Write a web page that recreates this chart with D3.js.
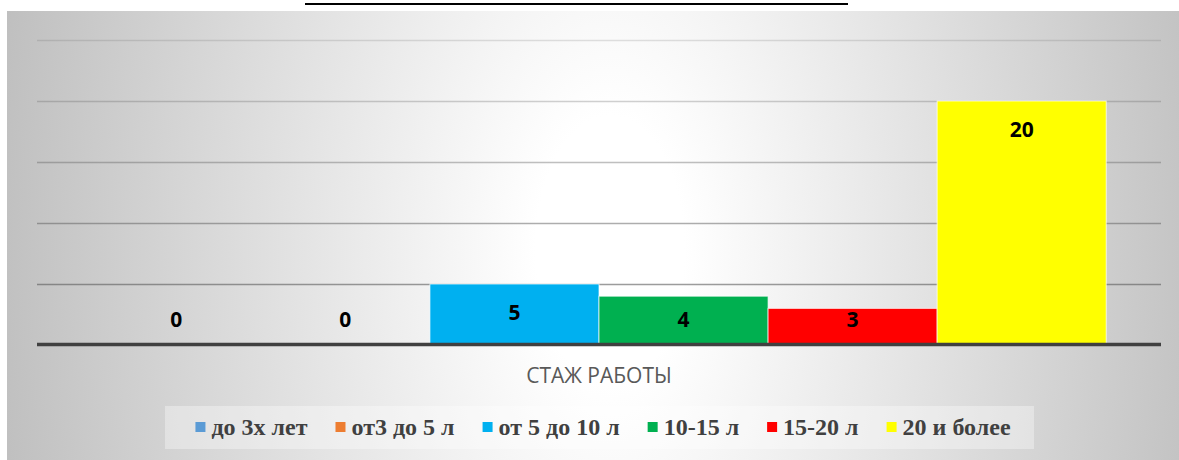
<!DOCTYPE html>
<html>
<head>
<meta charset="utf-8">
<script src="https://cdn.jsdelivr.net/npm/d3@7"></script>
<style>
  body { margin: 0; background: #fff; }
  svg { display: block; }
</style>
</head>
<body>
<div id="root"></div>
<script>
// Data
const category = "СТАЖ РАБОТЫ";
const seriesNames = ["до 3х лет", "от3 до 5 л", "от 5 до 10 л", "10-15 л", "15-20 л", "20 и более"];
const seriesValues = [0, 0, 5, 4, 3, 20];
const barColors = ["#5b9bd5", "#ed7d31", "#00b0f0", "#00b050", "#ff0000", "#ffff00"];
const yTicks = [0, 5, 10, 15, 20, 25];

const w = 1179;
const h = 460;
const plot = { left: 37, right: 1161, top: 40, bottom: 345 };

const svg = d3.select("#root")
  .append("svg")
  .attr("width", w)
  .attr("height", h);

// Background (radial gradient like the office chart style)
const defs = svg.append("defs");
const grad = defs.append("radialGradient")
  .attr("id", "bg")
  .attr("gradientUnits", "userSpaceOnUse")
  .attr("cx", 610).attr("cy", 250).attr("r", 620)
  .attr("gradientTransform", "translate(610,250) scale(1,1.8) translate(-610,-250)");
grad.append("stop").attr("offset", 0).attr("stop-color", "#ffffff");
grad.append("stop").attr("offset", 0.12).attr("stop-color", "#ffffff");
grad.append("stop").attr("offset", 1).attr("stop-color", "#bfbfbf");

svg.append("rect")
  .attr("x", 7).attr("y", 11)
  .attr("width", w - 7).attr("height", h - 11)
  .attr("fill", "url(#bg)");

// title underline (title text itself is cut off above the frame)
svg.append("line")
  .attr("x1", 305).attr("x2", 848)
  .attr("y1", 4).attr("y2", 4)
  .attr("stroke", "#000")
  .attr("stroke-width", 2);

// Scales
const y = d3.scaleLinear()
  .domain([0, d3.max(yTicks)])
  .range([plot.bottom, plot.top]);

const x0 = d3.scaleBand()
  .domain([category])
  .range([plot.left, plot.right])
  .paddingInner(0)
  .paddingOuter(0.054);

const x1 = d3.scaleBand()
  .domain(seriesNames)
  .range([0, x0.bandwidth()]);

// Gridlines, getting darker toward the bottom
const gridOpacity = d3.scaleLinear().domain([25, 5]).range([0.18, 0.6]);
svg.append("g")
  .selectAll("line")
  .data(yTicks.filter(t => t > 0))
  .enter()
  .append("line")
  .attr("x1", plot.left).attr("x2", plot.right)
  .attr("y1", d => Math.round(y(d)) + 0.5)
  .attr("y2", d => Math.round(y(d)) + 0.5)
  .attr("stroke", "#5a5a5a")
  .attr("stroke-opacity", d => gridOpacity(d))
  .attr("stroke-width", 1.5);

// Bars
const bars = seriesNames.map((name, i) => ({ name, value: seriesValues[i], color: barColors[i] }));

const g = svg.append("g").attr("transform", `translate(${x0(category)},0)`);

g.selectAll("rect.bar")
  .data(bars)
  .enter()
  .append("rect")
  .attr("class", "bar")
  .attr("x", d => x1(d.name))
  .attr("y", d => y(d.value))
  .attr("width", x1.bandwidth())
  .attr("height", d => y(0) - y(d.value))
  .attr("fill", d => d.color)
  .attr("stroke", d => d.value > 0 ? "#ffffff" : "none")
  .attr("stroke-opacity", 0.7)
  .attr("stroke-width", 1);

// Value labels
g.selectAll("text.label")
  .data(bars)
  .enter()
  .append("text")
  .attr("class", "label")
  .attr("x", d => x1(d.name) + x1.bandwidth() / 2)
  .attr("y", d => Math.min(y(d.value) + 36, y(0) - 18))
  .attr("text-anchor", "middle")
  .style("font-family", "'Open Sans', sans-serif")
  .style("font-weight", "bold")
  .style("font-size", "21px")
  .style("fill", "#000")
  .text(d => d.value);

// Baseline axis
svg.append("line")
  .attr("x1", plot.left).attr("x2", plot.right)
  .attr("y1", y(0) - 0.5).attr("y2", y(0) - 0.5)
  .attr("stroke", "#404040")
  .attr("stroke-width", 3.5);

// Category label
svg.append("text")
  .attr("x", x0(category) + x0.bandwidth() / 2)
  .attr("y", 383)
  .attr("text-anchor", "middle")
  .style("font-family", "'Open Sans', sans-serif")
  .style("font-size", "21px")
  .style("fill", "#595959")
  .text(category);

// Legend
const legendBox = { x: 165, y: 406, w: 869, h: 43 };
svg.append("rect")
  .attr("x", legendBox.x).attr("y", legendBox.y)
  .attr("width", legendBox.w).attr("height", legendBox.h)
  .attr("fill", "#ffffff")
  .attr("fill-opacity", 0.35);

const legend = svg.append("g").attr("id", "legend");
const items = legend.selectAll("g")
  .data(bars)
  .enter()
  .append("g");

items.append("rect")
  .attr("width", 10).attr("height", 10)
  .attr("y", 422)
  .attr("fill", d => d.color);

items.append("text")
  .attr("x", 16)
  .attr("y", 435)
  .style("font-family", "'Liberation Serif', 'Times New Roman', serif")
  .style("font-weight", "bold")
  .style("font-size", "24px")
  .style("fill", "#404040")
  .text(d => d.name);

const widths = [];
items.selectAll("text").each(function () { widths.push(this.getComputedTextLength()); });
const itemWidths = widths.map(tw => 16 + tw);
const gap = 28;
const total = d3.sum(itemWidths) + gap * (itemWidths.length - 1);
let cursor = 603 - total / 2;
items.attr("transform", (d, i) => {
  const tx = cursor;
  cursor += itemWidths[i] + gap;
  return `translate(${tx},0)`;
});
</script>
</body>
</html>
